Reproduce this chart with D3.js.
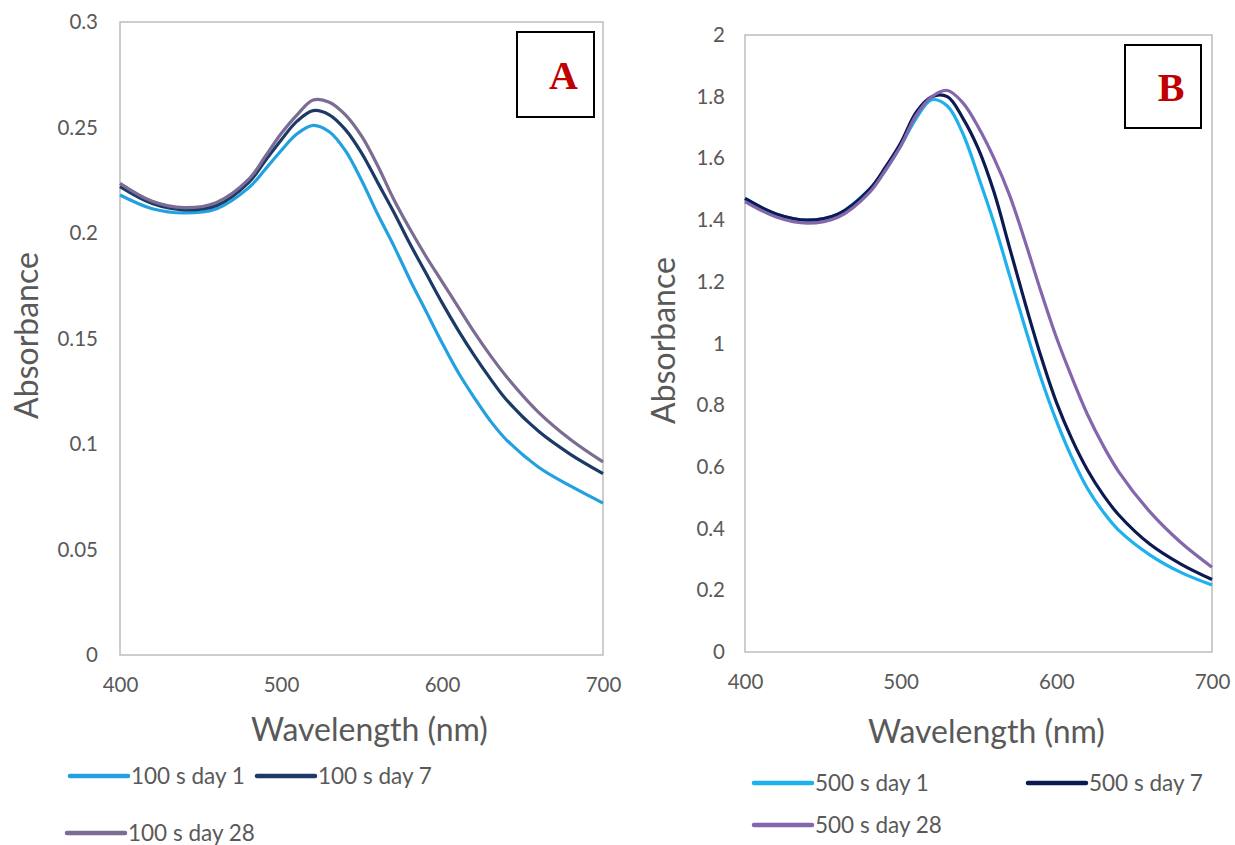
<!DOCTYPE html>
<html>
<head>
<meta charset="utf-8">
<script src="https://cdn.jsdelivr.net/npm/d3@7"></script>
<style>
  body { margin: 0; background: #fff; }
  svg text { font-family: Lato, "Open Sans", sans-serif; fill: #595959; }
</style>
</head>
<body>
<div id="chart"></div>
<script>
// wavelength grid (nm), shared by both panels
const wavelengths = [400, 420, 440, 460, 480, 490, 500, 510, 520, 530, 540, 550, 560, 570, 580, 590, 600, 610, 620, 630, 640, 660, 680, 700];

// panel A, 100 s
const a100Day1  = [0.218, 0.2115, 0.2095, 0.2115, 0.2215, 0.230, 0.239, 0.247, 0.251, 0.248, 0.239, 0.225, 0.209, 0.194, 0.178, 0.163, 0.148, 0.134, 0.122, 0.111, 0.102, 0.089, 0.080, 0.072];
const a100Day7  = [0.222, 0.214, 0.211, 0.213, 0.224, 0.234, 0.244, 0.253, 0.258, 0.256, 0.249, 0.238, 0.224, 0.210, 0.195, 0.181, 0.167, 0.154, 0.142, 0.131, 0.121, 0.106, 0.095, 0.086];
const a100Day28 = [0.2235, 0.215, 0.212, 0.2145, 0.2255, 0.236, 0.247, 0.256, 0.263, 0.262, 0.256, 0.246, 0.232, 0.216, 0.202, 0.189, 0.177, 0.165, 0.153, 0.142, 0.132, 0.115, 0.102, 0.0915];

// panel B, 500 s
const b500Day1  = [1.47, 1.42, 1.40, 1.42, 1.50, 1.56, 1.64, 1.73, 1.79, 1.77, 1.68, 1.54, 1.39, 1.22, 1.05, 0.89, 0.75, 0.63, 0.53, 0.455, 0.395, 0.315, 0.258, 0.217];
const b500Day7  = [1.47, 1.42, 1.40, 1.42, 1.50, 1.57, 1.65, 1.75, 1.80, 1.80, 1.73, 1.63, 1.49, 1.31, 1.13, 0.96, 0.81, 0.69, 0.59, 0.51, 0.445, 0.35, 0.285, 0.235];
const b500Day28 = [1.46, 1.41, 1.39, 1.41, 1.49, 1.56, 1.64, 1.74, 1.80, 1.82, 1.78, 1.70, 1.60, 1.48, 1.33, 1.17, 1.02, 0.89, 0.77, 0.67, 0.585, 0.455, 0.355, 0.275];

const xTicks = [400, 500, 600, 700];
const yTicksA = [0, 0.05, 0.1, 0.15, 0.2, 0.25, 0.3];
const yTicksB = [0, 0.2, 0.4, 0.6, 0.8, 1, 1.2, 1.4, 1.6, 1.8, 2];

const panels = [
  {
    tag: "A", x0: 120, x1: 603, y0: 22, y1: 655, yMax: 0.3, yTicks: yTicksA,
    box: [517, 32, 77, 85], yTitleX: 38, xTitleY: 741,
    series: [
      { name: "100 s day 1",  values: a100Day1,  color: "#22a0e0" },
      { name: "100 s day 7",  values: a100Day7,  color: "#1b3a66" },
      { name: "100 s day 28", values: a100Day28, color: "#7b6c93" }
    ],
    legend: [[70, 776], [257, 776], [67, 833]]
  },
  {
    tag: "B", x0: 745, x1: 1212, y0: 35, y1: 652, yMax: 2, yTicks: yTicksB,
    box: [1125, 45, 76, 83], yTitleX: 675, xTitleY: 743,
    series: [
      { name: "500 s day 1",  values: b500Day1,  color: "#1fb0ee" },
      { name: "500 s day 7",  values: b500Day7,  color: "#0c1a52" },
      { name: "500 s day 28", values: b500Day28, color: "#8466ad" }
    ],
    legend: [[754, 783], [1028, 783], [754, 825]]
  }
];

const svg = d3.select("#chart").append("svg").attr("width", 1235).attr("height", 845);

panels.forEach(p => {
  const x = d3.scaleLinear().domain([400, 700]).range([p.x0, p.x1]);
  const y = d3.scaleLinear().domain([0, p.yMax]).range([p.y1, p.y0]);
  const g = svg.append("g");

  // plot frame
  g.append("rect")
    .attr("x", p.x0).attr("y", p.y0)
    .attr("width", p.x1 - p.x0).attr("height", p.y1 - p.y0)
    .attr("fill", "none").attr("stroke", "#bdbdbd").attr("stroke-width", 1.5);

  // axes (labels only, Excel style)
  const xAxis = g.append("g").attr("transform", `translate(0,${p.y1})`)
    .call(d3.axisBottom(x).tickValues(xTicks).tickSize(0).tickPadding(22).tickFormat(d3.format("d")));
  const yAxis = g.append("g").attr("transform", `translate(${p.x0},0)`)
    .call(d3.axisLeft(y).tickValues(p.yTicks).tickSize(0).tickPadding(p.tag === "A" ? 22 : 20).tickFormat(d => String(+d.toFixed(2))));
  [xAxis, yAxis].forEach(a => {
    a.select(".domain").remove();
    a.selectAll("text").attr("font-size", 20.5).attr("font-family", "Lato, sans-serif").attr("fill", "#595959");
  });

  // curves
  const line = d3.line()
    .x((d, i) => x(wavelengths[i]))
    .y(d => y(d))
    .curve(d3.curveCatmullRom.alpha(0.5));
  p.series.forEach(s => {
    g.append("path").datum(s.values)
      .attr("d", line)
      .attr("fill", "none").attr("stroke", s.color).attr("stroke-width", 3.2)
      .attr("stroke-linejoin", "round");
  });

  // panel tag box
  g.append("rect")
    .attr("x", p.box[0]).attr("y", p.box[1]).attr("width", p.box[2]).attr("height", p.box[3])
    .attr("fill", "#fff").attr("stroke", "#000").attr("stroke-width", 2);
  g.append("text")
    .attr("x", p.box[0] + p.box[2] / 2 + 8).attr("y", p.box[1] + p.box[3] / 2 + 14)
    .attr("text-anchor", "middle")
    .style("font-family", "'Liberation Serif', 'DejaVu Serif', serif")
    .style("font-weight", "bold").style("font-size", "40px").style("fill", "#c00000")
    .text(p.tag);

  // axis titles
  g.append("text")
    .attr("x", (p.x0 + p.x1) / 2 + 8).attr("y", p.xTitleY)
    .attr("text-anchor", "middle").attr("font-size", 32)
    .text("Wavelength (nm)");
  g.append("text")
    .attr("transform", `translate(${p.yTitleX},${(p.y0 + p.y1) / 2 - 3}) rotate(-90)`)
    .attr("text-anchor", "middle").attr("font-size", 32)
    .text("Absorbance");

  // legend
  p.series.forEach((s, i) => {
    const [lx, ly] = p.legend[i];
    g.append("line")
      .attr("x1", lx).attr("x2", lx + 58).attr("y1", ly).attr("y2", ly)
      .attr("stroke", s.color).attr("stroke-width", 4.5).attr("stroke-linecap", "round");
    g.append("text")
      .attr("x", lx + 61).attr("y", ly + 8)
      .attr("font-size", 22.5)
      .text(s.name);
  });
});
</script>
</body>
</html>
